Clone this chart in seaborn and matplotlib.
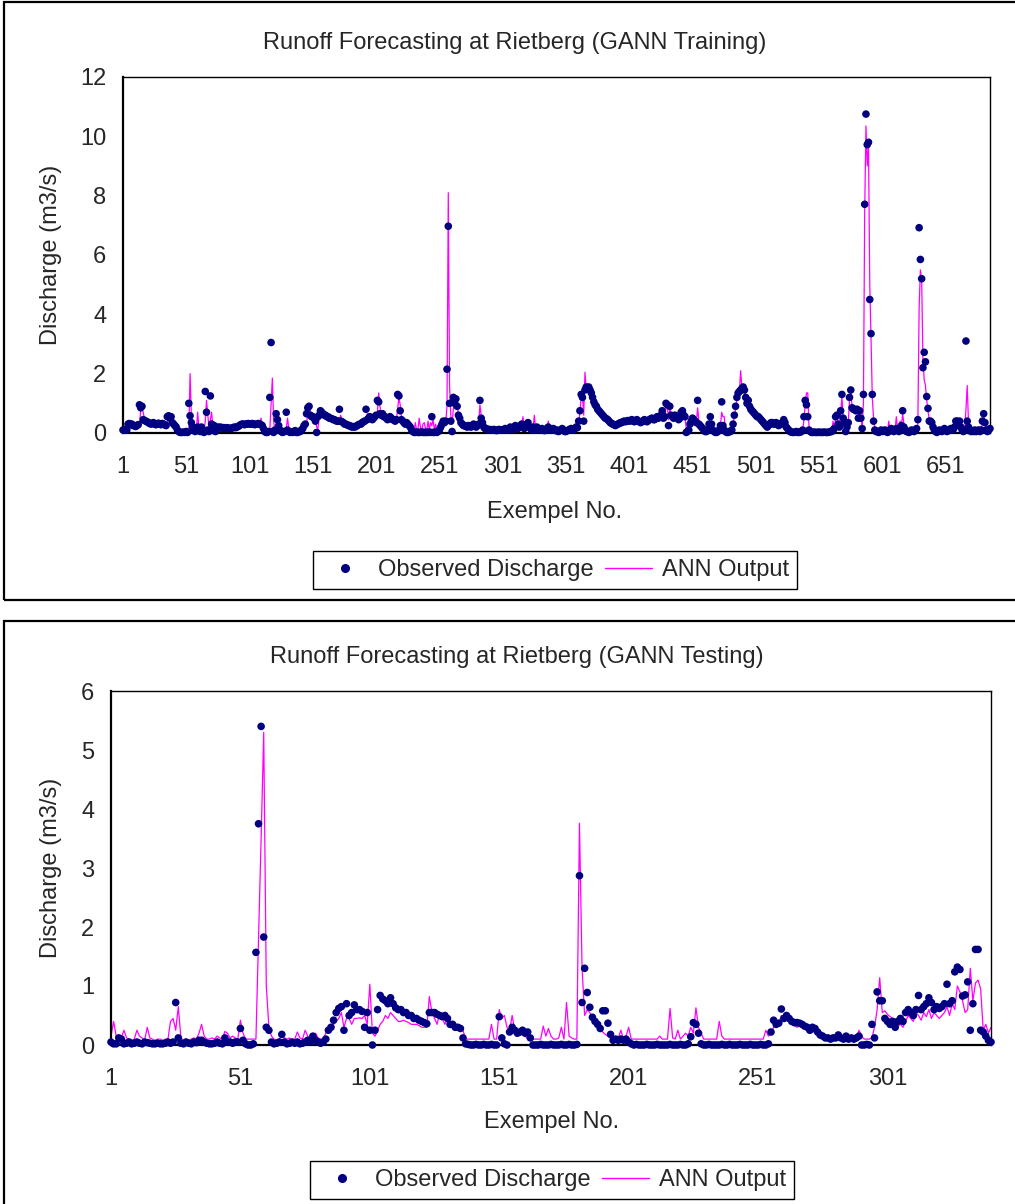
import numpy as np
import pandas as pd
import matplotlib
matplotlib.use("Agg")
import matplotlib.pyplot as plt
from matplotlib.lines import Line2D
from matplotlib.patches import Rectangle
import seaborn as sns

# Observed discharge (m3/s), GANN training set
train_obs = [
    0.10,0.10,0.12,0.10,0.30,0.32,0.28,0.30,0.25,0.25,0.22,0.25,0.28,0.95,0.85,0.90,0.45,0.42,0.40,0.38,
    0.35,0.33,0.30,0.32,0.35,0.30,0.28,0.30,0.33,0.30,0.28,0.32,0.30,0.28,0.25,0.55,0.58,0.50,0.55,0.35,
    0.30,0.25,0.20,0.10,0.05,0.02,0.02,0.02,0.03,0.02,0.05,0.02,1.00,0.58,0.35,0.20,0.10,0.05,0.15,0.20,
    0.10,0.05,0.20,0.05,0.02,1.40,0.70,0.10,0.05,1.25,0.30,0.10,0.25,0.05,0.15,0.20,0.18,0.20,0.15,0.18,
    0.18,0.15,0.18,0.17,0.15,0.15,0.17,0.18,0.20,0.18,0.20,0.22,0.25,0.28,0.30,0.30,0.28,0.30,0.30,0.32,
    0.30,0.30,0.32,0.30,0.28,0.30,0.30,0.32,0.30,0.28,0.25,0.15,0.05,0.02,0.02,0.05,1.20,3.05,0.05,0.02,
    0.10,0.65,0.45,0.25,0.10,0.05,0.02,0.05,0.05,0.70,0.10,0.05,0.02,0.03,0.02,0.05,0.08,0.02,0.02,0.05,
    0.05,0.10,0.15,0.25,0.30,0.65,0.85,0.90,0.60,0.55,0.55,0.50,0.40,0.02,0.55,0.60,0.75,0.70,0.65,0.60,
    0.60,0.55,0.55,0.50,0.50,0.48,0.45,0.45,0.42,0.40,0.40,0.80,0.40,0.38,0.35,0.30,0.30,0.28,0.25,0.25,
    0.22,0.20,0.22,0.20,0.22,0.25,0.28,0.30,0.30,0.35,0.38,0.40,0.80,0.45,0.50,0.55,0.50,0.45,0.50,0.55,
    0.60,1.10,1.05,0.65,0.60,0.65,0.55,0.55,0.50,0.45,0.50,0.55,0.50,0.45,0.45,0.40,0.45,1.30,1.25,0.75,
    0.45,0.40,0.35,0.30,0.35,0.30,0.25,0.20,0.10,0.05,0.02,0.02,0.03,0.02,0.02,0.02,0.03,0.02,0.02,0.02,
    0.02,0.02,0.03,0.02,0.55,0.02,0.02,0.03,0.02,0.05,0.10,0.20,0.30,0.40,0.35,0.40,2.15,6.97,1.00,0.40,
    0.05,1.20,1.00,1.15,0.90,0.60,0.50,0.35,0.30,0.25,0.25,0.22,0.20,0.25,0.22,0.20,0.25,0.30,0.25,0.20,
    0.25,0.30,1.10,0.50,0.35,0.20,0.15,0.15,0.12,0.10,0.12,0.10,0.10,0.12,0.10,0.08,0.10,0.12,0.10,0.10,
    0.10,0.12,0.15,0.12,0.10,0.15,0.20,0.15,0.12,0.20,0.25,0.20,0.15,0.20,0.25,0.30,0.20,0.15,0.25,0.30,
    0.35,0.20,0.15,0.10,0.20,0.15,0.10,0.20,0.15,0.10,0.12,0.15,0.10,0.08,0.10,0.15,0.20,0.15,0.10,0.12,
    0.15,0.10,0.08,0.10,0.05,0.08,0.10,0.15,0.10,0.05,0.05,0.08,0.10,0.12,0.15,0.12,0.10,0.15,0.20,0.18,
    0.40,0.75,1.30,1.20,0.40,1.45,1.55,1.50,1.55,1.45,1.35,1.20,1.05,0.95,0.90,0.80,0.75,0.70,0.65,0.60,
    0.55,0.50,0.48,0.45,0.40,0.35,0.32,0.30,0.28,0.25,0.28,0.30,0.32,0.35,0.35,0.38,0.40,0.38,0.40,0.42,
    0.40,0.42,0.45,0.40,0.38,0.42,0.45,0.40,0.38,0.35,0.38,0.42,0.45,0.40,0.38,0.42,0.45,0.48,0.50,0.45,
    0.45,0.50,0.55,0.50,0.55,0.60,0.75,0.50,0.55,1.00,0.95,0.25,0.90,0.60,0.55,0.50,0.60,0.55,0.50,0.45,
    0.50,0.70,0.75,0.60,0.55,0.02,0.05,0.10,0.30,0.40,0.50,0.45,0.40,0.35,1.10,0.30,0.25,0.20,0.15,0.10,
    0.05,0.05,0.10,0.30,0.55,0.30,0.10,0.05,0.02,0.02,0.05,0.10,0.25,1.05,0.25,0.10,0.05,0.02,0.02,0.05,
    0.05,0.10,0.30,0.60,0.90,1.20,1.35,1.40,1.45,1.50,1.55,1.45,1.20,1.00,1.10,0.90,0.80,0.75,0.70,0.65,
    0.60,0.55,0.55,0.50,0.45,0.40,0.35,0.30,0.25,0.20,0.25,0.30,0.35,0.35,0.30,0.30,0.35,0.30,0.25,0.30,
    0.30,0.35,0.45,0.35,0.20,0.15,0.10,0.05,0.03,0.02,0.02,0.03,0.05,0.02,0.02,0.03,0.05,0.10,0.55,1.10,
    0.95,0.55,0.10,0.05,0.02,0.02,0.03,0.02,0.02,0.02,0.03,0.02,0.02,0.02,0.03,0.02,0.02,0.02,0.03,0.05,
    0.05,0.10,0.15,0.55,0.60,0.30,0.20,0.75,1.30,0.50,0.35,0.05,0.20,0.35,1.20,1.45,0.85,0.80,0.80,0.75,
    0.80,0.50,0.75,0.50,0.15,1.30,7.71,10.75,9.72,9.80,4.50,3.35,1.30,0.40,0.10,0.05,0.05,0.02,0.05,0.10,
    0.05,0.08,0.10,0.05,0.02,0.05,0.10,0.15,0.10,0.05,0.10,0.15,0.10,0.05,0.15,0.25,0.75,0.20,0.10,0.05,
    0.05,0.02,0.05,0.10,0.08,0.05,0.10,0.15,0.45,6.92,5.85,5.20,2.20,2.72,2.40,1.23,0.83,0.40,0.40,0.35,
    0.20,0.10,0.05,0.02,0.05,0.10,0.08,0.05,0.10,0.15,0.10,0.05,0.08,0.10,0.15,0.10,0.12,0.20,0.40,0.40,
    0.35,0.40,0.20,0.10,0.05,0.10,3.10,0.40,0.20,0.10,0.05,0.08,0.05,0.10,0.05,0.08,0.10,0.05,0.10,0.40,
    0.65,0.35,0.10,0.05,0.10,0.15,
]

# ANN output, training set
train_ann = [
    0.15,0.12,0.12,0.15,0.18,0.28,0.30,0.28,0.28,0.25,0.25,0.24,0.25,0.30,0.75,0.80,0.70,0.45,0.42,0.40,
    0.38,0.35,0.33,0.31,0.32,0.34,0.31,0.29,0.30,0.32,0.30,0.29,0.31,0.30,0.28,0.30,0.50,0.55,0.50,0.50,
    0.38,0.30,0.25,0.20,0.12,0.06,0.04,0.03,0.03,0.03,0.04,0.05,0.10,2.00,0.60,0.35,0.22,0.12,0.10,0.70,
    0.15,0.10,0.20,0.10,0.05,0.40,1.10,0.60,0.15,0.45,0.70,0.20,0.15,0.20,0.12,0.16,0.19,0.18,0.18,0.16,
    0.18,0.17,0.16,0.18,0.17,0.16,0.16,0.17,0.19,0.20,0.19,0.21,0.23,0.26,0.28,0.30,0.30,0.29,0.30,0.30,
    0.31,0.30,0.31,0.31,0.30,0.29,0.30,0.31,0.31,0.50,0.28,0.22,0.12,0.06,0.04,0.05,0.10,1.00,1.85,0.40,
    0.10,0.15,0.55,0.40,0.22,0.12,0.08,0.05,0.06,0.15,0.50,0.15,0.06,0.04,0.04,0.04,0.06,0.06,0.04,0.04,
    0.05,0.08,0.12,0.20,0.28,0.35,0.65,0.80,0.75,0.55,0.52,0.50,0.45,0.20,0.15,0.50,0.60,0.70,0.68,0.62,
    0.60,0.57,0.54,0.52,0.50,0.48,0.47,0.45,0.43,0.42,0.40,0.45,0.60,0.40,0.36,0.33,0.30,0.29,0.27,0.25,
    0.23,0.22,0.21,0.21,0.21,0.23,0.26,0.28,0.30,0.32,0.36,0.39,0.45,0.65,0.48,0.50,0.52,0.48,0.47,0.52,
    0.56,0.70,1.35,0.90,0.62,0.62,0.58,0.55,0.52,0.48,0.48,0.52,0.51,0.47,0.45,0.42,0.43,0.80,1.20,0.95,
    0.55,0.42,0.37,0.32,0.33,0.31,0.27,0.22,0.14,0.08,0.10,0.35,0.08,0.12,0.50,0.20,0.10,0.30,0.35,0.15,
    0.08,0.40,0.10,0.35,0.25,0.45,0.10,0.30,0.08,0.05,0.10,0.18,0.28,0.36,0.38,0.38,0.90,8.10,1.60,0.60,
    0.30,0.80,1.05,1.10,0.95,0.65,0.52,0.38,0.32,0.27,0.26,0.23,0.21,0.24,0.23,0.21,0.24,0.28,0.26,0.22,
    0.24,0.30,0.95,0.60,0.38,0.22,0.16,0.15,0.13,0.11,0.12,0.11,0.10,0.11,0.10,0.09,0.10,0.11,0.10,0.10,
    0.10,0.11,0.14,0.12,0.11,0.14,0.18,0.16,0.13,0.18,0.23,0.21,0.16,0.19,0.24,0.28,0.55,0.18,0.24,0.28,
    0.33,0.22,0.17,0.12,0.18,0.60,0.12,0.18,0.16,0.11,0.12,0.14,0.11,0.09,0.10,0.14,0.40,0.16,0.11,0.12,
    0.14,0.11,0.09,0.10,0.06,0.08,0.10,0.14,0.11,0.06,0.06,0.08,0.10,0.12,0.14,0.13,0.11,0.14,0.18,0.19,
    0.35,0.70,1.20,1.25,0.60,2.05,1.50,1.50,1.52,1.45,1.38,1.25,1.10,0.98,0.92,0.82,0.76,0.70,0.66,0.61,
    0.56,0.51,0.48,0.45,0.41,0.36,0.33,0.30,0.28,0.26,0.27,0.29,0.31,0.34,0.35,0.37,0.39,0.38,0.39,0.41,
    0.40,0.41,0.43,0.41,0.38,0.40,0.43,0.41,0.38,0.35,0.37,0.40,0.44,0.41,0.38,0.40,0.44,0.47,0.49,0.46,
    0.45,0.48,0.53,0.50,0.53,0.58,0.70,0.55,0.52,0.85,0.95,0.45,0.80,0.65,0.55,0.50,0.57,0.55,0.50,0.46,
    0.48,0.65,0.72,0.62,0.55,0.15,0.08,0.10,0.25,0.38,0.48,0.45,0.40,0.36,0.85,0.40,0.27,0.21,0.16,0.11,
    0.07,0.06,0.09,0.25,0.50,0.35,0.14,0.07,0.04,0.04,0.05,0.09,0.22,0.70,0.55,0.55,0.10,0.05,0.04,0.05,
    0.08,0.12,0.28,0.55,0.82,1.10,1.30,1.40,2.10,1.50,1.50,1.45,1.22,1.05,1.05,0.92,0.82,0.76,0.71,0.66,
    0.61,0.57,0.55,0.51,0.46,0.41,0.36,0.31,0.26,0.22,0.24,0.28,0.33,0.34,0.31,0.30,0.33,0.30,0.26,0.28,
    0.29,0.33,0.42,0.36,0.22,0.16,0.11,0.06,0.04,0.03,0.03,0.04,0.05,0.03,0.03,0.04,0.05,0.09,0.45,0.95,
    1.35,1.35,0.20,0.06,0.03,0.03,0.03,0.03,0.02,0.03,0.03,0.03,0.02,0.03,0.03,0.03,0.02,0.03,0.03,0.05,
    0.08,0.40,0.12,0.50,0.60,0.35,0.22,0.70,1.20,0.55,0.38,0.10,0.18,0.33,1.10,1.40,0.90,0.80,0.78,0.75,
    0.76,0.55,0.70,0.52,0.20,1.00,7.50,10.35,9.00,9.70,5.00,3.20,1.20,0.50,0.15,0.07,0.05,0.03,0.05,0.09,
    0.07,0.08,0.10,0.06,0.03,0.40,0.12,0.15,0.11,0.06,0.10,0.55,0.12,0.06,0.40,0.25,0.65,0.30,0.12,0.06,
    0.06,0.03,0.05,0.09,0.08,0.06,0.09,0.14,0.30,4.20,5.50,5.20,2.50,1.80,1.60,1.10,0.75,0.45,0.40,0.35,
    0.22,0.12,0.06,0.03,0.05,0.09,0.08,0.06,0.09,0.14,0.11,0.06,0.08,0.10,0.14,0.11,0.12,0.18,0.35,0.38,
    0.36,0.38,0.22,0.12,0.06,0.09,0.80,1.60,0.35,0.12,0.06,0.07,0.06,0.09,0.06,0.07,0.09,0.06,0.09,0.35,
    0.60,0.38,0.12,0.06,0.09,0.14,
]

# Observed discharge (m3/s), GANN testing set
test_obs = [
    0.05,0.02,0.02,0.12,0.10,0.02,0.03,0.05,0.02,0.03,0.05,0.03,0.02,0.05,0.04,0.03,0.02,0.02,0.03,0.02,
    0.02,0.03,0.05,0.03,0.05,0.72,0.12,0.03,0.02,0.05,0.03,0.02,0.05,0.04,0.08,0.08,0.05,0.03,0.02,
    0.02,0.03,0.05,0.03,0.02,0.12,0.05,0.05,0.03,0.05,0.05,0.28,0.08,0.02,0.00,0.00,0.02,1.57,3.75,5.40,
    1.83,0.30,0.25,0.05,0.02,0.03,0.05,0.18,0.05,0.02,0.03,0.05,0.03,0.05,0.02,0.03,0.05,0.08,0.05,
    0.15,0.08,0.05,0.03,0.05,0.10,0.25,0.30,0.42,0.55,0.62,0.65,0.25,0.70,0.50,0.55,0.68,0.60,0.60,0.57,
    0.30,0.55,0.25,0.00,0.25,0.60,0.84,0.78,0.75,0.70,0.80,0.70,0.63,0.60,0.60,0.55,0.55,0.50,0.50,0.45,
    0.45,0.42,0.40,0.38,0.36,0.55,0.55,0.55,0.52,0.50,0.48,0.50,0.45,0.35,0.35,0.30,0.30,0.28,0.12,0.02,
    0.01,0.00,0.00,0.01,0.00,0.00,0.01,0.00,0.00,0.01,0.00,0.00,0.48,0.12,0.02,0.00,0.22,0.30,0.25,
    0.20,0.22,0.25,0.20,0.22,0.12,0.00,0.00,0.00,0.01,0.00,0.00,0.00,0.01,0.00,0.00,0.00,0.01,0.00,
    0.00,0.01,0.00,0.00,0.01,2.87,0.72,1.30,0.89,0.64,0.47,0.40,0.35,0.28,0.58,0.58,0.37,0.18,0.08,0.10,
    0.08,0.10,0.08,0.10,0.05,0.02,0.00,0.01,0.00,0.00,0.00,0.01,0.00,0.00,0.00,0.01,0.00,0.00,0.00,
    0.00,0.01,0.00,0.00,0.00,0.01,0.00,0.00,0.02,0.14,0.38,0.35,0.20,0.02,0.00,0.00,0.01,0.00,0.00,0.00,
    0.00,0.01,0.00,0.00,0.01,0.00,0.00,0.00,0.01,0.00,0.00,0.00,0.01,0.00,0.00,0.00,0.01,0.00,0.00,
    0.02,0.22,0.42,0.35,0.37,0.61,0.45,0.50,0.45,0.40,0.38,0.38,0.37,0.35,0.32,0.30,0.25,0.30,0.28,0.22,
    0.17,0.15,0.12,0.12,0.10,0.12,0.12,0.17,0.12,0.10,0.15,0.10,0.12,0.10,0.12,0.15,0.00,0.00,0.01,0.00,
    0.35,0.12,0.90,0.75,0.75,0.45,0.40,0.35,0.40,0.30,0.40,0.45,0.40,0.55,0.60,0.55,0.50,0.60,0.84,0.60,
    0.65,0.70,0.80,0.72,0.60,0.65,0.62,0.65,0.70,1.03,0.70,0.75,1.24,1.32,1.28,0.83,0.85,1.07,0.25,0.70,
    1.62,1.62,0.25,0.22,0.15,0.08,0.05,
]

# ANN output, testing set
test_ann = [
    0.15,0.40,0.15,0.10,0.12,0.25,0.12,0.10,0.08,0.10,0.25,0.15,0.12,0.08,0.30,0.12,0.10,0.08,0.10,0.10,
    0.08,0.10,0.10,0.40,0.45,0.25,0.65,0.12,0.08,0.10,0.08,0.10,0.12,0.10,0.20,0.35,0.15,0.10,0.10,
    0.12,0.10,0.15,0.12,0.10,0.23,0.20,0.12,0.15,0.12,0.10,0.42,0.20,0.10,0.10,0.10,0.10,0.10,1.80,3.50,
    5.30,1.00,0.30,0.15,0.10,0.08,0.10,0.15,0.12,0.10,0.12,0.08,0.10,0.22,0.12,0.10,0.25,0.15,0.10,
    0.10,0.20,0.12,0.10,0.10,0.20,0.25,0.30,0.35,0.40,0.45,0.55,0.30,0.45,0.45,0.35,0.45,0.45,0.46,0.45,
    0.50,0.35,1.03,0.20,0.15,0.25,0.35,0.40,0.50,0.45,0.55,0.50,0.45,0.40,0.40,0.42,0.40,0.38,0.35,0.35,
    0.35,0.33,0.30,0.30,0.30,0.82,0.55,0.45,0.35,0.55,0.45,0.35,0.45,0.30,0.30,0.30,0.28,0.25,0.25,0.10,
    0.10,0.10,0.10,0.10,0.10,0.10,0.10,0.10,0.10,0.35,0.10,0.10,0.60,0.45,0.50,0.30,0.25,0.50,0.25,
    0.20,0.22,0.20,0.15,0.10,0.10,0.10,0.10,0.10,0.10,0.32,0.15,0.28,0.15,0.10,0.10,0.12,0.30,0.10,
    0.72,0.15,0.12,0.10,0.10,3.76,1.30,0.50,0.60,0.55,0.45,0.35,0.30,0.25,0.22,0.18,0.15,0.12,0.10,0.10,
    0.12,0.25,0.10,0.15,0.30,0.10,0.10,0.10,0.10,0.10,0.10,0.10,0.10,0.10,0.10,0.10,0.15,0.10,0.10,
    0.10,0.62,0.12,0.10,0.25,0.10,0.15,0.20,0.15,0.30,0.20,0.63,0.30,0.20,0.10,0.10,0.10,0.10,0.10,0.10,
    0.40,0.15,0.10,0.10,0.10,0.10,0.10,0.10,0.10,0.10,0.10,0.10,0.10,0.10,0.10,0.10,0.10,0.10,0.25,
    0.15,0.20,0.30,0.35,0.37,0.50,0.45,0.45,0.40,0.35,0.33,0.30,0.32,0.30,0.32,0.28,0.25,0.22,0.22,0.20,
    0.15,0.12,0.12,0.10,0.10,0.12,0.15,0.12,0.12,0.10,0.12,0.15,0.12,0.10,0.12,0.25,0.15,0.10,0.10,0.10,
    0.12,0.30,0.60,1.14,0.55,0.58,0.52,0.48,0.45,0.38,0.32,0.35,0.30,0.40,0.50,0.45,0.40,0.55,0.50,0.42,
    0.55,0.48,0.60,0.45,0.55,0.50,0.45,0.50,0.55,0.65,0.50,0.70,0.60,1.00,0.90,0.75,0.55,0.60,1.30,0.75,
    1.05,1.10,0.95,0.25,0.35,0.20,0.30,
]

train_yticks = [0, 2, 4, 6, 8, 10, 12]
test_yticks = [0, 1, 2, 3, 4, 5, 6]

OBS_COLOR = "#000080"
ANN_COLOR = "#FF00FF"
W, H = 1015, 1204


def fx(px):
    return px / W


def fy(py):
    return 1 - py / H


def draw_panel(fig, rect, obs, ann, yticks):
    ax = fig.add_axes(rect)
    df = pd.DataFrame({"Exempel": np.arange(1, len(obs) + 1), "Observed": obs, "ANN": ann})
    n = len(df)

    sns.lineplot(data=df, x="Exempel", y="ANN", color=ANN_COLOR, lw=0.9,
                 estimator=None, ax=ax, zorder=2)
    sns.scatterplot(data=df, x="Exempel", y="Observed", color=OBS_COLOR, s=30,
                    edgecolor="none", linewidth=0, ax=ax, zorder=3, clip_on=False)

    ax.set_xlim(1, n)
    ax.set_ylim(yticks[0], yticks[-1])
    ax.set_yticks(yticks)
    ax.set_yticklabels([str(t) for t in yticks])
    xt = list(range(1, n + 1, 10))
    ax.set_xticks(xt)
    ax.set_xticklabels([str(t) if (t - 1) % 50 == 0 else "" for t in xt])
    ax.set_xlabel("")
    ax.set_ylabel("")
    ax.grid(False)
    ax.tick_params(axis="y", direction="inout", length=12, width=1.2, pad=6, labelsize=17)
    ax.tick_params(axis="x", direction="inout", length=9, width=1.2, pad=12, labelsize=17)
    for side in ["left", "bottom"]:
        ax.spines[side].set_linewidth(1.6)
        ax.spines[side].set_color("black")
    for side in ["top", "right"]:
        ax.spines[side].set_linewidth(1.0)
        ax.spines[side].set_color("black")
    return ax


sns.set_style("white")
plt.rcParams["font.family"] = ["Liberation Sans", "DejaVu Sans"]

fig = plt.figure(figsize=(W / 100, H / 100), dpi=100)

# outer chart frames
fig.add_artist(Rectangle((fx(4), fy(600)), 1.0, (600 - 2) / H, transform=fig.transFigure,
                         fill=False, lw=1.6, edgecolor="black"))
fig.add_artist(Rectangle((fx(4), -0.01), 1.0, (1204 - 621) / H + 0.01, transform=fig.transFigure,
                         fill=False, lw=1.6, edgecolor="black"))

top = draw_panel(fig, [fx(123), fy(433), (990 - 123) / W, (433 - 77) / H],
                 train_obs, train_ann, train_yticks)
bot = draw_panel(fig, [fx(111), fy(1045), (991 - 111) / W, (1045 - 691) / H],
                 test_obs, test_ann, test_yticks)

fig.text(fx(515), fy(43), "Runoff Forecasting at Rietberg (GANN Training)",
         ha="center", va="center", fontsize=17)
fig.text(fx(517), fy(657), "Runoff Forecasting at Rietberg (GANN Testing)",
         ha="center", va="center", fontsize=17)
fig.text(fx(555), fy(512), "Exempel No.", ha="center", va="center", fontsize=17)
fig.text(fx(552), fy(1122), "Exempel No.", ha="center", va="center", fontsize=17)
fig.text(fx(51), fy(255), "Discharge (m3/s)", ha="center", va="center", rotation=90, fontsize=17)
fig.text(fx(51), fy(868), "Discharge (m3/s)", ha="center", va="center", rotation=90, fontsize=17)

handles = [
    Line2D([], [], marker="o", ls="none", color=OBS_COLOR, markersize=5.5),
    Line2D([], [], color=ANN_COLOR, lw=1),
]
labels = ["Observed Discharge", "ANN Output"]
for cx, cy in [(555, 570), (552, 1180)]:
    leg = fig.legend(handles, labels, loc="center", bbox_to_anchor=(fx(cx), fy(cy)),
                     ncol=2, frameon=True, fancybox=False, edgecolor="black", framealpha=1,
                     fontsize=17, handlelength=2.0, handletextpad=0.4, columnspacing=0.5,
                     borderpad=0.35, borderaxespad=0)
    leg.get_frame().set_linewidth(1.0)

fig.savefig("out.png", dpi=100)
